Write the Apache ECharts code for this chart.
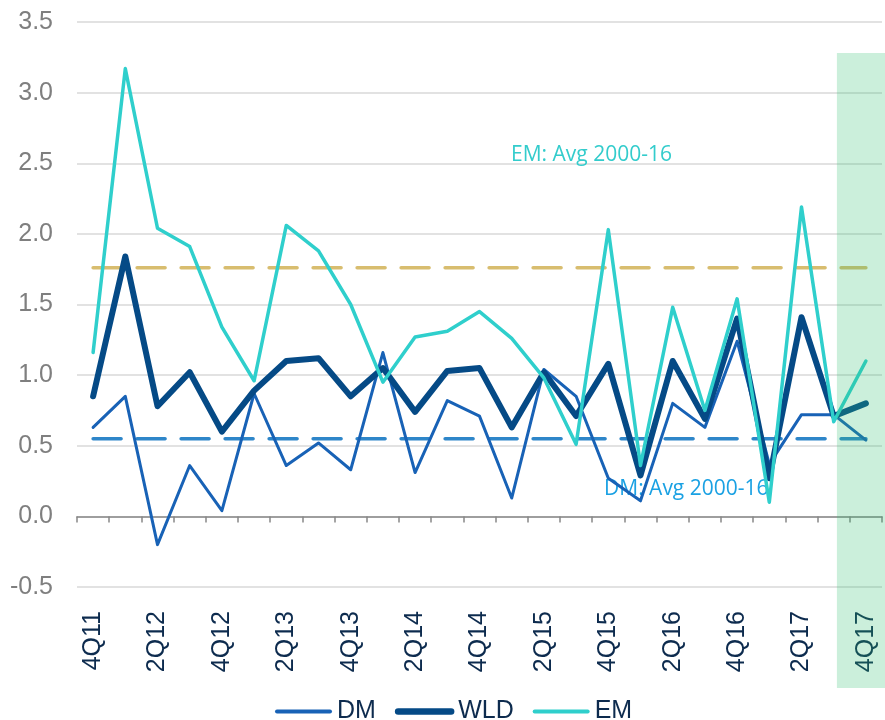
<!DOCTYPE html>
<html>
<head>
<meta charset="utf-8">
<script src="https://cdn.jsdelivr.net/npm/echarts@6/dist/echarts.min.js"></script>
<style>
html,body{margin:0;padding:0;background:#fff;}
#chart{width:885px;height:720px;}
</style>
</head>
<body>
<div id="chart"></div>
<script>
var categories = ['4Q11','1Q12','2Q12','3Q12','4Q12','1Q13','2Q13','3Q13','4Q13','1Q14','2Q14','3Q14','4Q14','1Q15','2Q15','3Q15','4Q15','1Q16','2Q16','3Q16','4Q16','1Q17','2Q17','3Q17','4Q17'];
var dmValues  = [0.63, 0.85, -0.20, 0.36, 0.04, 0.87, 0.36, 0.52, 0.33, 1.16, 0.31, 0.82, 0.71, 0.13, 1.04, 0.85, 0.27, 0.11, 0.80, 0.63, 1.24, 0.37, 0.72, 0.72, 0.54];
var wldValues = [0.85, 1.84, 0.78, 1.02, 0.60, 0.89, 1.10, 1.12, 0.85, 1.05, 0.74, 1.03, 1.05, 0.63, 1.02, 0.71, 1.08, 0.29, 1.10, 0.69, 1.40, 0.27, 1.41, 0.71, 0.80];
var emValues  = [1.16, 3.17, 2.04, 1.91, 1.34, 0.96, 2.06, 1.88, 1.50, 0.95, 1.27, 1.31, 1.45, 1.26, 0.98, 0.51, 2.03, 0.36, 1.48, 0.75, 1.54, 0.10, 2.19, 0.67, 1.10];
var emAvg = 1.76;
var dmAvg = 0.55;
var highlightCategory = '4Q17';

var emAvgLine = categories.map(function(){ return emAvg; });
var dmAvgLine = categories.map(function(){ return dmAvg; });

var chart = echarts.init(document.getElementById('chart'));
var font = '"Liberation Sans", Arial, sans-serif';

chart.setOption({
  animation: false,
  backgroundColor: '#ffffff',
  grid: { left: 77, right: 3, top: 22, bottom: 133, containLabel: false },
  legend: {
    data: [
      { name: 'DM',  itemStyle: { opacity: 0 }, lineStyle: { width: 4, cap: 'round' } },
      { name: 'WLD', itemStyle: { opacity: 0 }, lineStyle: { width: 6.5, cap: 'round' } },
      { name: 'EM',  itemStyle: { opacity: 0 }, lineStyle: { width: 4, cap: 'round' } }
    ],
    left: 275, top: 699, padding: 0,
    itemWidth: 53, itemHeight: 14, itemGap: 19,
    textStyle: { color: '#0d2b4e', fontSize: 25, fontFamily: font, padding: [0, 0, 0, 2] }
  },
  xAxis: [{
    type: 'category', data: categories, position: 'bottom',
    axisLine: { show: false, onZero: false },
    axisTick: { show: false },
    axisLabel: { interval: 1, rotate: 90, margin: 24, color: '#0d2b4e', fontSize: 25, fontFamily: font },
    splitLine: { show: false }
  }, {
    type: 'category', data: categories, position: 'bottom',
    axisLine: { show: true, onZero: true, lineStyle: { color: '#888888', width: 1.5 } },
    axisTick: { show: true, interval: 0, length: 6, lineStyle: { color: '#888888', width: 1.5 } },
    axisLabel: { show: false },
    splitLine: { show: false }
  }],
  yAxis: {
    type: 'value', min: -0.5, max: 3.5, interval: 0.5,
    axisLine: { show: false }, axisTick: { show: false },
    axisLabel: { color: '#7f7f7f', fontSize: 25, fontFamily: font, margin: 24,
      formatter: function(v){ return v.toFixed(1); } },
    splitLine: { lineStyle: { color: '#d9d9d9', width: 1.5 } }
  },
  series: [{
    name: 'EM avg', type: 'line', data: emAvgLine, symbol: 'none', silent: true, z: 1,
    lineStyle: { color: '#d8bd6f', width: 3.5, type: [28, 16], cap: 'round' }
  }, {
    name: 'DM avg', type: 'line', data: dmAvgLine, symbol: 'none', silent: true, z: 1,
    lineStyle: { color: '#2e86c9', width: 3.5, type: [28, 16], cap: 'round' }
  }, {
    name: 'DM', type: 'line', data: dmValues, symbol: 'none', showSymbol: false,
    itemStyle: { color: '#1862b6' },
    lineStyle: { color: '#1862b6', width: 3, cap: 'round', join: 'round' }
  }, {
    name: 'WLD', type: 'line', data: wldValues, symbol: 'none', showSymbol: false,
    itemStyle: { color: '#054a86' },
    lineStyle: { color: '#054a86', width: 6, cap: 'round', join: 'round' }
  }, {
    name: 'EM', type: 'line', data: emValues, symbol: 'none', showSymbol: false,
    itemStyle: { color: '#2fcfcc' },
    lineStyle: { color: '#2fcfcc', width: 3.5, cap: 'round', join: 'round' }
  }]
});

var cx = chart.convertToPixel({ xAxisIndex: 0 }, highlightCategory);
var bandLeft = cx - 29;
chart.setOption({
  graphic: [{
    type: 'text', z: 1, left: 511, top: 145,
    style: { text: 'EM: Avg 2000-16', fill: '#33cccc', font: '21px "Open Sans", sans-serif' }
  }, {
    type: 'text', z: 1, left: 604, top: 479,
    style: { text: 'DM: Avg 2000-16', fill: '#1aa1e3', font: '21px "Open Sans", sans-serif' }
  }, {
    type: 'rect', z: 100, silent: true,
    shape: { x: bandLeft, y: 53, width: 885 - bandLeft, height: 635 },
    style: { fill: 'rgba(46,190,110,0.25)' }
  }]
});
</script>
</body>
</html>
